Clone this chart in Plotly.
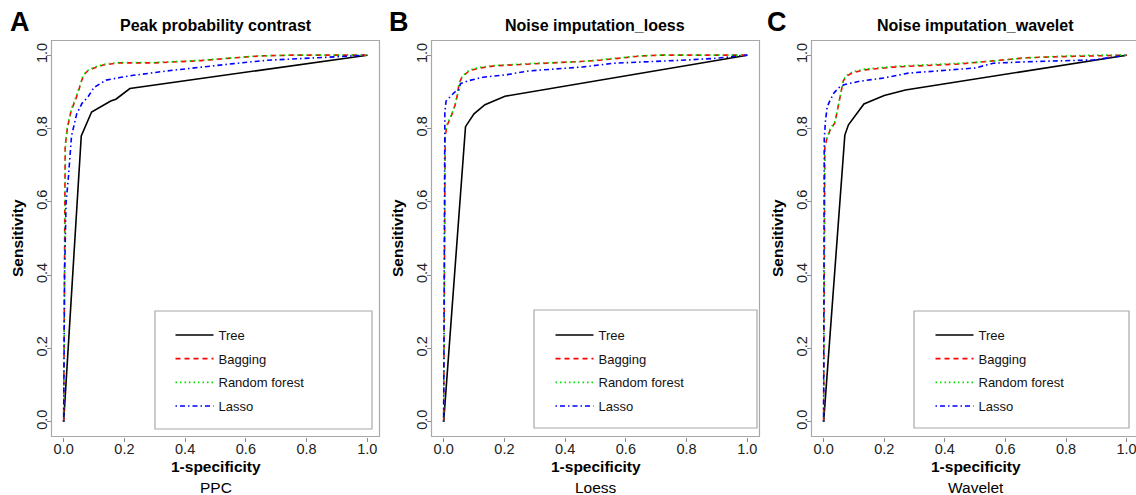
import plotly.graph_objects as go

W, H = 1136, 495

# ------------------------------------------------------------------ data
tick_vals = [0.0, 0.2, 0.4, 0.6, 0.8, 1.0]
tick_text = ["0.0", "0.2", "0.4", "0.6", "0.8", "1.0"]
methods = ["Tree", "Bagging", "Random forest", "Lasso"]
panel_letters = ["A", "B", "C"]
panel_titles = ["Peak probability contrast", "Noise imputation_loess", "Noise imputation_wavelet"]
panel_subtitles = ["PPC", "Loess", "Wavelet"]
x_title = "1-specificity"
y_title = "Sensitivity"

# Panel A: PPC
ppc_tree_x = [0, 0.058, 0.092, 0.155, 0.172, 0.19, 0.218, 1]
ppc_tree_y = [0, 0.78, 0.845, 0.875, 0.88, 0.892, 0.909, 1]
ppc_bag_x = [0, 0.003, 0.005, 0.012, 0.025, 0.04, 0.055, 0.065, 0.08, 0.1, 0.13, 0.18, 0.3, 0.45, 0.55, 0.65, 0.75, 1]
ppc_bag_y = [0, 0.5, 0.75, 0.8, 0.85, 0.88, 0.92, 0.945, 0.958, 0.965, 0.973, 0.979, 0.979, 0.985, 0.992, 0.998, 1, 1]
ppc_rf_x = [0, 0.003, 0.006, 0.013, 0.026, 0.04, 0.056, 0.066, 0.082, 0.1, 0.13, 0.18, 0.3, 0.45, 0.56, 0.64, 0.74, 1]
ppc_rf_y = [0, 0.52, 0.76, 0.81, 0.855, 0.885, 0.925, 0.948, 0.96, 0.967, 0.975, 0.98, 0.98, 0.986, 0.993, 0.998, 1, 1]
ppc_lasso_x = [0, 0.003, 0.008, 0.015, 0.026, 0.043, 0.06, 0.08, 0.1, 0.14, 0.185, 0.23, 0.34, 0.45, 0.56, 0.67, 0.89, 1]
ppc_lasso_y = [0, 0.4, 0.6, 0.66, 0.78, 0.84, 0.868, 0.886, 0.912, 0.932, 0.939, 0.945, 0.957, 0.968, 0.977, 0.986, 0.995, 1]

# Panel B: Loess
loess_tree_x = [0, 0.072, 0.1, 0.136, 0.202, 1]
loess_tree_y = [0, 0.805, 0.84, 0.865, 0.888, 1]
loess_bag_x = [0, 0.002, 0.005, 0.012, 0.026, 0.037, 0.045, 0.05, 0.06, 0.085, 0.12, 0.17, 0.3, 0.45, 0.5, 0.56, 0.65, 0.72, 1]
loess_bag_y = [0, 0.6, 0.78, 0.81, 0.836, 0.862, 0.89, 0.92, 0.94, 0.958, 0.965, 0.971, 0.977, 0.982, 0.985, 0.99, 0.998, 1, 1]
loess_rf_x = [0, 0.002, 0.005, 0.013, 0.027, 0.038, 0.046, 0.051, 0.062, 0.086, 0.12, 0.17, 0.3, 0.45, 0.51, 0.57, 0.64, 0.71, 1]
loess_rf_y = [0, 0.62, 0.79, 0.815, 0.84, 0.866, 0.894, 0.925, 0.944, 0.96, 0.967, 0.972, 0.978, 0.982, 0.986, 0.992, 0.998, 1, 1]
loess_lasso_x = [0, 0.001, 0.002, 0.004, 0.008, 0.02, 0.037, 0.05, 0.055, 0.08, 0.13, 0.21, 0.28, 0.46, 0.56, 0.78, 0.89, 1]
loess_lasso_y = [0, 0.5, 0.76, 0.845, 0.875, 0.885, 0.9, 0.905, 0.922, 0.93, 0.94, 0.947, 0.957, 0.968, 0.978, 0.986, 0.991, 1]

# Panel C: Wavelet
wav_tree_x = [0, 0.07, 0.082, 0.11, 0.133, 0.2, 0.27, 1]
wav_tree_y = [0, 0.782, 0.81, 0.843, 0.867, 0.89, 0.905, 1]
wav_bag_x = [0, 0.002, 0.004, 0.01, 0.021, 0.037, 0.048, 0.056, 0.065, 0.075, 0.095, 0.135, 0.24, 0.45, 0.56, 0.67, 0.78, 0.9, 1]
wav_bag_y = [0, 0.5, 0.75, 0.77, 0.795, 0.815, 0.86, 0.89, 0.93, 0.942, 0.952, 0.96, 0.968, 0.976, 0.985, 0.993, 0.996, 0.999, 1]
wav_rf_x = [0, 0.002, 0.004, 0.011, 0.022, 0.038, 0.049, 0.057, 0.066, 0.076, 0.096, 0.135, 0.24, 0.45, 0.56, 0.66, 0.77, 0.9, 1]
wav_rf_y = [0, 0.52, 0.76, 0.775, 0.8, 0.82, 0.865, 0.895, 0.934, 0.945, 0.955, 0.962, 0.97, 0.978, 0.984, 0.992, 0.997, 1, 1]
wav_lasso_x = [0, 0.001, 0.002, 0.006, 0.012, 0.022, 0.035, 0.055, 0.07, 0.12, 0.2, 0.28, 0.45, 0.5, 0.56, 0.67, 0.89, 1]
wav_lasso_y = [0, 0.5, 0.77, 0.82, 0.86, 0.878, 0.898, 0.915, 0.92, 0.929, 0.938, 0.951, 0.961, 0.965, 0.978, 0.982, 0.987, 1]

panel_data = [
    [(ppc_tree_x, ppc_tree_y), (ppc_bag_x, ppc_bag_y), (ppc_rf_x, ppc_rf_y), (ppc_lasso_x, ppc_lasso_y)],
    [(loess_tree_x, loess_tree_y), (loess_bag_x, loess_bag_y), (loess_rf_x, loess_rf_y), (loess_lasso_x, loess_lasso_y)],
    [(wav_tree_x, wav_tree_y), (wav_bag_x, wav_bag_y), (wav_rf_x, wav_rf_y), (wav_lasso_x, wav_lasso_y)],
]

# ------------------------------------------------------------------ styles / layout
FONT = "Liberation Sans, Arial, Helvetica, sans-serif"
line_styles = {
    "Tree": dict(color="#000000", dash="solid", width=1.6),
    "Bagging": dict(color="#FF0000", dash="5px,4px", width=1.6),
    "Random forest": dict(color="#00E000", dash="1.5px,3px", width=1.6),
    "Lasso": dict(color="#0000FF", dash="1.5px,3px,5px,3px", width=1.6),
}
BOX_COLOR = "#a8a8a8"


def px(x):
    return x / W


def py(y):
    return 1 - y / H


# pixel geometry of the three panels
box_top, box_bot = 40.5, 436.5
boxes = [(51.5, 379.5, 379.5), (431.5, 759.5, 759.5), (811.5, 1136.0, 1139.5)]  # left, domain right, drawn right
x_ranges = [[-0.04, 1.04], [-0.04, 1.04], [-0.04, 1.031]]
legend_boxes = [(155, 311, 372, 429), (534, 310, 757, 428), (914, 311, 1129, 428)]
legend_line_start = [172, 552, 932]
legend_first_row = [335, 335, 335]
title_cx = [215.5, 595, 975]
letter_cx = [19.5, 398.5, 776.5]

fig = go.Figure()
shapes = []
annotations = []

for p in range(3):
    sfx = "" if p == 0 else str(p + 1)
    lg = "legend" if p == 0 else f"legend{p + 1}"
    for m, (xs, ys) in zip(methods, panel_data[p]):
        st = line_styles[m]
        fig.add_trace(go.Scatter(
            x=xs, y=ys, mode="lines", name=m,
            line=dict(color=st["color"], dash=st["dash"], width=st["width"]),
            xaxis="x" + sfx, yaxis="y" + sfx,
            legend=lg, legendgroup=f"{p}-{m}", showlegend=True,
        ))
    l, r, rdraw = boxes[p]
    ax_common = dict(
        showgrid=False, zeroline=False, showline=False,
        ticks="outside", ticklen=4, tickwidth=1, tickcolor="#888888",
        tickvals=tick_vals, ticktext=tick_text,
        tickfont=dict(family=FONT, size=14.5, color="#222222"),
        automargin=False, ticklabeloverflow="allow",
    )
    fig.update_layout(**{
        "xaxis" + sfx: dict(domain=[px(l), px(r)], range=x_ranges[p], anchor="y" + sfx,
                            ticklabelstandoff=-5, **ax_common),
        "yaxis" + sfx: dict(domain=[py(box_bot), py(box_top)], range=[-0.04, 1.04], anchor="x" + sfx,
                            tickangle=-90, ticklabelstandoff=-6, **ax_common),
    })
    # plot box
    shapes.append(dict(type="rect", xref="paper", yref="paper",
                       x0=px(l), x1=px(rdraw), y0=py(box_bot), y1=py(box_top),
                       line=dict(color=BOX_COLOR, width=1.2), layer="above"))
    # legend box
    lx0, ly0, lx1, ly1 = legend_boxes[p]
    shapes.append(dict(type="rect", xref="paper", yref="paper",
                       x0=px(lx0), x1=px(lx1), y0=py(ly1), y1=py(ly0),
                       line=dict(color=BOX_COLOR, width=1.2), fillcolor="white", layer="below"))
    fig.update_layout(**{lg: dict(
        x=px(legend_line_start[p] - 1.5), y=py(legend_first_row[p] - 15),
        xanchor="left", yanchor="top",
        bgcolor="rgba(0,0,0,0)", borderwidth=0,
        itemwidth=38, tracegroupgap=3.8,
        font=dict(family=FONT, size=13, color="#111111"),
        itemclick=False, itemdoubleclick=False,
    )})
    # texts
    cx = (l + rdraw) / 2
    annotations += [
        dict(text=f"<b>{panel_titles[p]}</b>", x=px(title_cx[p]), y=py(25.5), xref="paper", yref="paper",
             showarrow=False, xanchor="center", yanchor="middle",
             font=dict(family=FONT, size=16, color="#000000")),
        dict(text=f"<b>{panel_letters[p]}</b>", x=px(letter_cx[p]), y=py(22.5), xref="paper", yref="paper",
             showarrow=False, xanchor="center", yanchor="middle",
             font=dict(family=FONT, size=27, color="#000000")),
        dict(text=f"<b>{x_title}</b>", x=px(cx), y=py(466), xref="paper", yref="paper",
             showarrow=False, xanchor="center", yanchor="middle",
             font=dict(family=FONT, size=15.5, color="#000000")),
        dict(text=panel_subtitles[p], x=px(cx), y=py(487), xref="paper", yref="paper",
             showarrow=False, xanchor="center", yanchor="middle",
             font=dict(family=FONT, size=15.5, color="#000000")),
        dict(text=f"<b>{y_title}</b>", x=px(l - 34), y=py((box_top + box_bot) / 2), xref="paper", yref="paper",
             showarrow=False, xanchor="center", yanchor="middle", textangle=-90,
             font=dict(family=FONT, size=15.5, color="#000000")),
    ]

fig.update_layout(
    width=W, height=H,
    margin=dict(l=0, r=0, t=0, b=0, autoexpand=False),
    paper_bgcolor="white", plot_bgcolor="white",
    shapes=shapes, annotations=annotations,
    font=dict(family=FONT),
)

fig.write_html(
    "out.html",
    config={"displayModeBar": False},
    post_script="document.body.style.margin='0';document.body.style.overflow='hidden';",
)
